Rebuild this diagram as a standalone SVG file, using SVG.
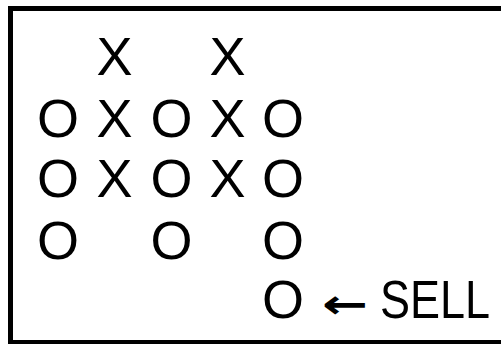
<svg xmlns="http://www.w3.org/2000/svg" width="501" height="344" viewBox="0 0 501 344">
<style>
.g{font-family:"Liberation Sans",Arial,sans-serif;font-size:54px;fill:#000;text-anchor:middle}
</style>
<rect x="0" y="0" width="501" height="344" fill="#fff"/>
<g id="frame"><rect x="10.5" y="8.5" width="520" height="334" fill="none" stroke="#000" stroke-width="5"/></g>
<g id="col1">
<text class="g" x="58" y="137">O</text>
<text class="g" x="58" y="197">O</text>
<text class="g" x="58" y="259">O</text>
</g>
<g id="col2">
<text class="g" x="114.5" y="75">X</text>
<text class="g" x="114.5" y="137">X</text>
<text class="g" x="114.5" y="197">X</text>
</g>
<g id="col3">
<text class="g" x="171.5" y="137">O</text>
<text class="g" x="171.5" y="197">O</text>
<text class="g" x="171.5" y="259">O</text>
</g>
<g id="col4">
<text class="g" x="227.5" y="75">X</text>
<text class="g" x="227.5" y="137">X</text>
<text class="g" x="227.5" y="197">X</text>
</g>
<g id="col5">
<text class="g" x="283" y="137">O</text>
<text class="g" x="283" y="197">O</text>
<text class="g" x="283" y="259">O</text>
<text class="g" x="283" y="318">O</text>
</g>
<g id="sell">
<text x="322" y="318" font-family="'DejaVu Sans',sans-serif" font-size="40" font-weight="bold" textLength="46" lengthAdjust="spacingAndGlyphs">←</text>
<text x="380" y="318" font-family="'Liberation Sans',Arial,sans-serif" font-size="54" textLength="110" lengthAdjust="spacingAndGlyphs">SELL</text>
</g>
</svg>
